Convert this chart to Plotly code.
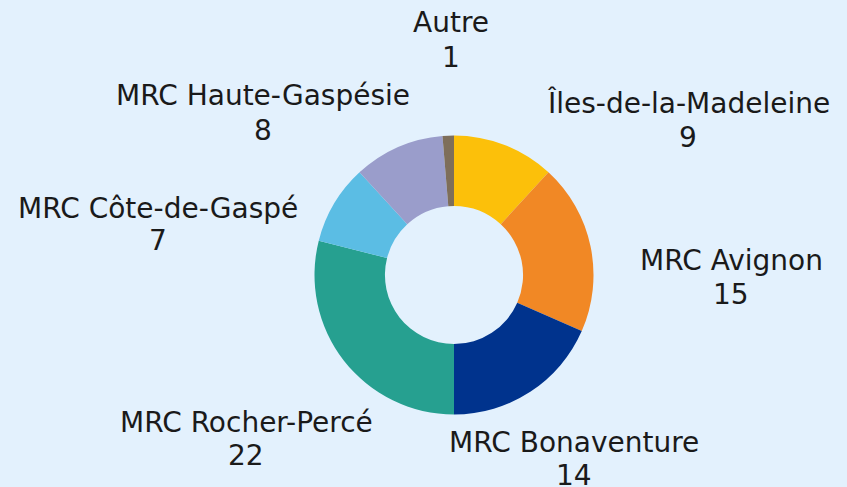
import plotly.graph_objects as go

labels = ["Îles-de-la-Madeleine", "MRC Avignon", "MRC Bonaventure", "MRC Rocher-Percé",
          "MRC Côte-de-Gaspé", "MRC Haute-Gaspésie", "Autre"]
values = [9, 15, 14, 22, 7, 8, 1]
colors = ["#FCC00A", "#F18825", "#00338D", "#26A090", "#5BBDE4", "#9A9DCB", "#7E6E5A"]
# label line centers in pixels: (x center, y of name line, y of value line)
label_pos = [(688, 103, 137), (731, 260, 294), (574, 442, 475), (246, 422, 455),
             (158, 208, 241), (263, 95, 130), (451, 22, 57)]

W, H = 847, 487
cx, cy, r = 454, 275, 139.5

fig = go.Figure(go.Pie(
    labels=labels, values=values, hole=0.495, sort=False, direction="clockwise",
    rotation=0, marker=dict(colors=colors, line=dict(width=0)), textinfo="none",
    hoverinfo="label+value", showlegend=False,
    domain=dict(x=[(cx - r) / W, (cx + r) / W], y=[(H - cy - r) / H, (H - cy + r) / H]),
))

font = dict(size=28, color="#1a1a1a", family="DejaVu Sans")
for lab, val, (px, py1, py2) in zip(labels, values, label_pos):
    fig.add_annotation(x=px / W, y=1 - py1 / H, xref="paper", yref="paper", text=lab,
                       showarrow=False, xanchor="center", yanchor="middle", font=font)
    fig.add_annotation(x=px / W, y=1 - py2 / H, xref="paper", yref="paper", text=str(val),
                       showarrow=False, xanchor="center", yanchor="middle", font=font)

fig.update_layout(width=W, height=H, margin=dict(l=0, r=0, t=0, b=0),
                  paper_bgcolor="#E3F1FD", plot_bgcolor="#E3F1FD")
fig.write_html("out.html", config={"displayModeBar": False},
               post_script="document.body.style.margin='0';document.body.style.overflow='hidden';")
